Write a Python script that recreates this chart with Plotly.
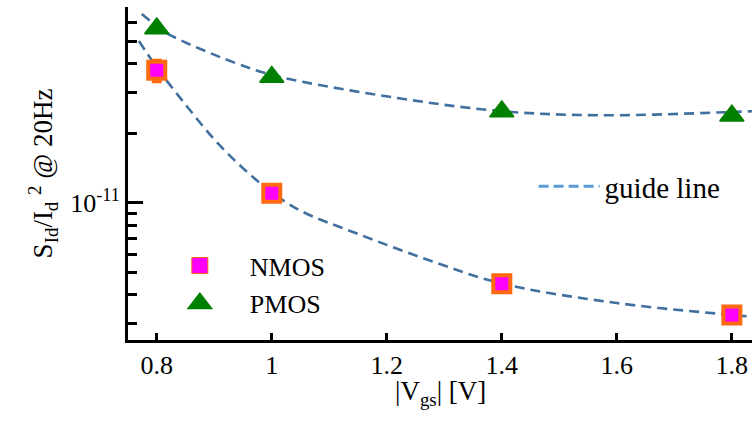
import plotly.graph_objects as go

# |Vgs| sweep points and measured normalized noise S_Id/Id^2 at 20 Hz
v_gs = [0.8, 1.0, 1.4, 1.8]
nmos = [3.74e-11, 1.10e-11, 4.46e-12, 3.27e-12]
nmos_err = [0.40e-11, 0.05e-11, 0.02e-11, 0.015e-11]
pmos = [5.68e-11, 3.50e-11, 2.48e-11, 2.38e-11]

# hand-drawn guide curves (points along each dashed line)
nmos_guide_x = [0.769, 0.80, 0.85, 0.90, 0.95, 1.00, 1.05, 1.15, 1.275, 1.40, 1.60, 1.80, 1.835]
nmos_guide_y = [5.01e-11, 3.85e-11, 2.66e-11, 1.88e-11, 1.41e-11, 1.11e-11, 9.23e-12,
                7.33e-12, 5.62e-12, 4.47e-12, 3.68e-12, 3.27e-12, 3.21e-12]
pmos_guide_x = [0.774, 0.80, 0.82, 0.936, 1.009, 1.218, 1.40, 1.571, 1.80, 1.835]
pmos_guide_y = [6.56e-11, 5.82e-11, 5.37e-11, 4.03e-11, 3.53e-11, 2.84e-11, 2.49e-11,
                2.39e-11, 2.47e-11, 2.49e-11]

x_ticks = [0.8, 1.0, 1.2, 1.4, 1.6, 1.8]
x_ticktext = ["0.8", "1", "1.2", "1.4", "1.6", "1.8"]
x_long_ticks = [1.2, 1.4, 1.6, 1.8]
x_title = "|V<sub>gs</sub>| [V]"
y_title = "S<sub>Id</sub>/I<sub>d</sub> <sup>2</sup> @ 20Hz"
y_major = [1e-11]
y_major_text = ["10<sup>-11</sup>"]
y_minor = [3e-12, 4e-12, 5e-12, 6e-12, 7e-12, 8e-12, 9e-12,
           2e-11, 3e-11, 4e-11, 5e-11, 6e-11, 7e-11]

SERIF = "Liberation Serif"
GUIDE = "#41709e"
ORANGE = "#ff6a10"
MAGENTA = "#ff00ff"
GREEN = "#008000"

fig = go.Figure()

fig.add_trace(go.Scatter(
    x=nmos_guide_x, y=nmos_guide_y, mode="lines",
    line=dict(color=GUIDE, width=2.6, dash="10px,6px", shape="spline", smoothing=1),
    showlegend=False, hoverinfo="skip"))
fig.add_trace(go.Scatter(
    x=pmos_guide_x, y=pmos_guide_y, mode="lines",
    line=dict(color=GUIDE, width=2.6, dash="10px,6px", shape="spline", smoothing=1),
    showlegend=False, hoverinfo="skip"))

fig.add_trace(go.Scatter(
    x=v_gs, y=nmos, mode="markers", name="NMOS", showlegend=False,
    error_y=dict(type="data", array=nmos_err, color=ORANGE, thickness=3, width=5),
    marker=dict(symbol="square", size=17, color=MAGENTA,
                line=dict(color=ORANGE, width=4))))
fig.add_trace(go.Scatter(
    x=v_gs, y=pmos, mode="markers", name="PMOS", showlegend=False,
    marker=dict(symbol="triangle-up", size=21, color=GREEN,
                line=dict(color=GREEN, width=1.5))))

# legend entries
fig.add_trace(go.Scatter(
    x=[None], y=[None], mode="markers", name="NMOS", legend="legend", legendgroup="n",
    marker=dict(symbol="square", size=16, color=MAGENTA, line=dict(color=ORANGE, width=1))))
fig.add_trace(go.Scatter(
    x=[None], y=[None], mode="markers", name="PMOS", legend="legend", legendgroup="p",
    marker=dict(symbol="triangle-up", size=16, color=GREEN, line=dict(color=GREEN, width=4))))
fig.add_trace(go.Scatter(
    x=[None], y=[None], mode="lines", name="guide line", legend="legend2",
    line=dict(color="#5b9bd5", width=3, dash="10px,5px")))

fig.update_layout(
    width=752, height=421,
    margin=dict(l=128, r=0, t=7, b=81),
    paper_bgcolor="white", plot_bgcolor="white",
    font=dict(family=SERIF, size=26, color="black"),
    showlegend=True,
    legend=dict(x=0.035, y=0.294, xanchor="left", yanchor="top",
                bgcolor="rgba(0,0,0,0)", itemwidth=90, traceorder="grouped",
                tracegroupgap=1, font=dict(family=SERIF, size=26)),
    legend2=dict(x=0.65, y=0.538, xanchor="left", yanchor="top",
                 bgcolor="rgba(0,0,0,0)", itemwidth=61,
                 font=dict(family=SERIF, size=29)),
    xaxis=dict(range=[0.75, 1.835], showline=True, linewidth=3, linecolor="black",
               ticks="inside", ticklen=7, tickwidth=3, tickcolor="black",
               tickvals=x_ticks, ticktext=x_ticktext, showgrid=False, zeroline=False,
               tickfont=dict(family=SERIF, size=26)),
    xaxis2=dict(range=[0.75, 1.835], overlaying="x", anchor="y", side="bottom",
                ticks="inside", ticklen=14, tickwidth=3, tickcolor="black",
                tickvals=x_long_ticks, showticklabels=False, showgrid=False,
                zeroline=False, showline=False),
    yaxis=dict(type="log", range=[-11.594, -10.153], showline=True, linewidth=3,
               linecolor="black", ticks="inside", ticklen=15, tickwidth=3,
               tickcolor="black", tickvals=y_major, ticktext=y_major_text,
               showgrid=False, zeroline=False, tickfont=dict(family=SERIF, size=26),
               minor=dict(ticks="inside", ticklen=9, tickwidth=3, tickcolor="black",
                          tickvals=y_minor, showgrid=False),
               title=dict(text=y_title, font=dict(family=SERIF, size=27), standoff=10)),
    annotations=[dict(text=x_title, xref="paper", yref="paper", x=0.5, y=-0.102,
                      xanchor="center", yanchor="top", showarrow=False,
                      font=dict(family=SERIF, size=27))],
)

fig.write_html("out.html")
